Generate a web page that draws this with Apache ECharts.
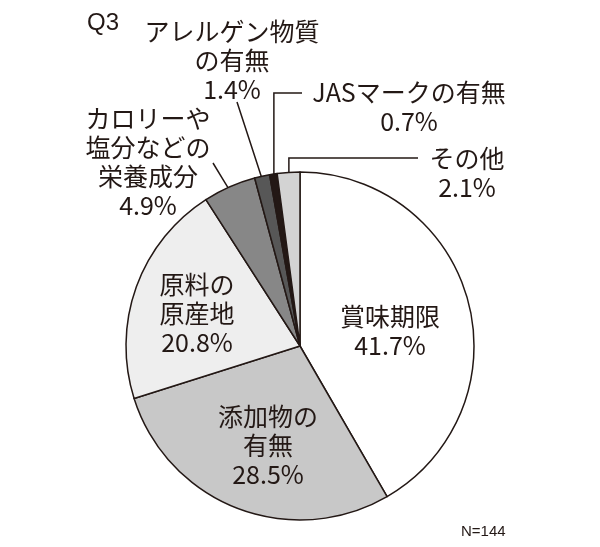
<!DOCTYPE html>
<html><head><meta charset="utf-8">
<script src="https://cdn.jsdelivr.net/npm/echarts@6/dist/echarts.min.js"></script>
<style>html,body{margin:0;padding:0;background:#fff}#c{width:600px;height:547px}</style>
</head><body><div id="c"></div>
<script>
const categories = ['賞味期限', '添加物の\n有無', '原料の\n原産地', 'カロリーや\n塩分などの\n栄養成分', 'アレルゲン物質\nの有無', 'JASマークの有無', 'その他'];
const values = [41.7, 28.5, 20.8, 4.9, 1.4, 0.7, 2.1];
const colors = ['#ffffff', '#c8c8c8', '#eeeeee', '#878787', '#575757', '#231815', '#d3d3d3'];
// label centres (layout)
const labelPos = [[390, 331], [268, 445], [197, 313], [148, 162], [232, 60], [409, 107], [467, 173]];

const CX = 300, CY = 346, R = 174;
const total = values.reduce((a, b) => a + b, 0);
const cum = [];
values.reduce((a, v, i) => { cum[i] = a; return a + v; }, 0);
function anchor(i, k) {
  const t = (cum[i] + values[i] / 2) / total * Math.PI * 2;
  return [CX + R * k * Math.sin(t), CY - R * k * Math.cos(t)];
}
const ink = '#231815';
const chart = echarts.init(document.getElementById('c'));
chart.setOption({
  animation: false,
  title: [
    { text: 'Q3', left: 82, top: 6, textStyle: { fontSize: 24, fontWeight: 'normal', fontFamily: 'Arial', color: ink } },
    { text: 'N=144', left: 456, top: 519, textStyle: { fontSize: 15, fontWeight: 'normal', fontFamily: 'Arial', color: ink } }
  ],
  series: [{
    type: 'pie',
    center: [CX, CY],
    radius: R,
    startAngle: 90,
    clockwise: true,
    avoidLabelOverlap: false,
    data: categories.map((n, i) => ({
      name: n, value: values[i],
      itemStyle: { color: colors[i] },
      label: { position: i < 3 ? 'inside' : 'outside' },
      labelLine: { show: i >= 3 }
    })),
    itemStyle: { borderColor: ink, borderWidth: 1.5 },
    label: {
      show: true,
      formatter: p => p.name + '\n' + p.value.toFixed(1) + '%',
      color: ink,
      fontSize: 25,
      lineHeight: 29,
      fontFamily: '"Noto Sans CJK JP", sans-serif',
      align: 'center'
    },
    labelLine: { lineStyle: { color: ink, width: 1.5 } },
    labelLayout: function (p) {
      const i = p.dataIndex;
      const o = { x: labelPos[i][0], y: labelPos[i][1], align: 'center', verticalAlign: 'middle', hideOverlap: false };
      if (i === 3) {
        const s = anchor(i, 0.93), e = [213, 163];
        o.labelLinePoints = [s, [(s[0] + e[0]) / 2, (s[1] + e[1]) / 2], e];
      } else if (i === 4) {
        const s = anchor(i, 0.95), e = [237, 102];
        o.labelLinePoints = [s, [(s[0] + e[0]) / 2, (s[1] + e[1]) / 2], e];
      } else if (i === 5) {
        const s = anchor(i, 0.98);
        o.labelLinePoints = [s, [s[0], 93], [302, 93]];
      } else if (i === 6) {
        const s = anchor(i, 0.97);
        o.labelLinePoints = [s, [s[0], 158], [418, 158]];
      }
      return o;
    }
  }]
});
</script></body></html>
